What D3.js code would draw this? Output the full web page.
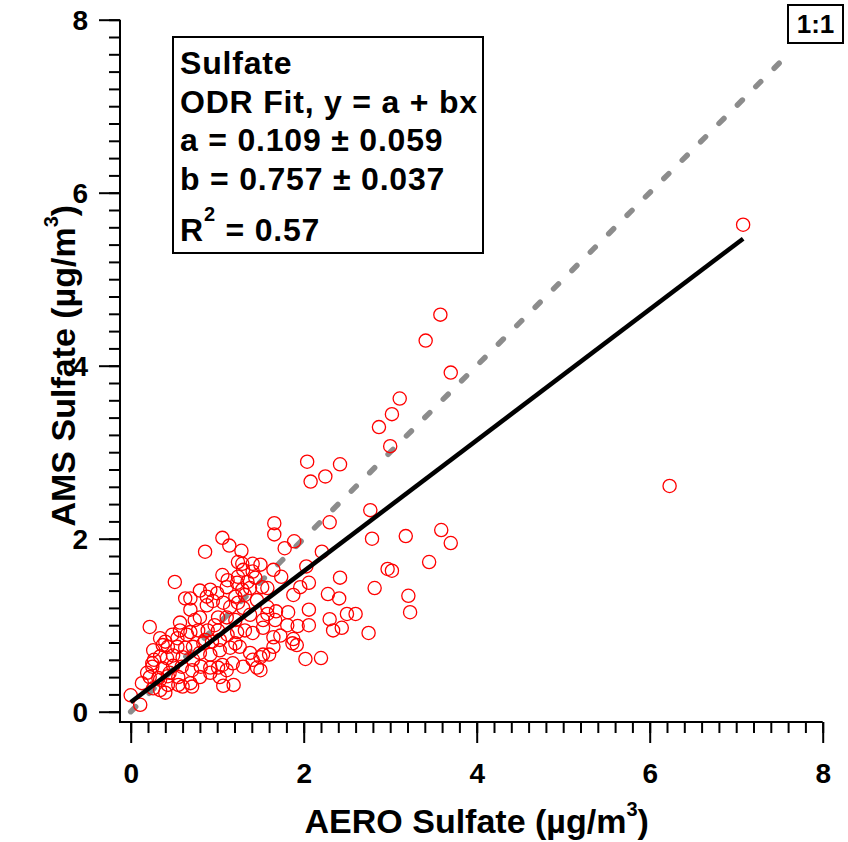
<!DOCTYPE html>
<html>
<head>
<meta charset="utf-8">
<script src="https://cdn.jsdelivr.net/npm/d3@7"></script>
<style>
	body { margin: 0; background: #fff; }
	text { font-family: "Liberation Sans", Arial, sans-serif; font-weight: bold; fill: #000; }
</style>
</head>
<body>
<svg id="chart"></svg>
<script>
// AERO vs AMS sulfate, ug/m3
const aeroSulfate = [
	3.58, 3.41, 3.70, 3.11, 3.02, 2.87, 3.00, 2.04, 2.42, 2.25, 2.08, 2.77, 2.30, 1.66, 1.66, 1.89, 2.79, 3.18, 3.59, 3.70, 7.08, 6.23,
	1.78, 2.21, 2.03, 1.65, 1.74, 1.58, 1.50, 2.06, 1.96, 1.88, 2.42, 2.28, 2.41, 2.82, 2.97, 3.02, 3.21, 3.23, 2.60, 2.50, 2.30, 2.44,
	2.34, 2.75, 2.06, 2.06, 1.93, 1.82, 1.68, 1.58, 1.67, 1.81, 1.53, 1.65, 1.73, 1.88, 1.92, 1.87, 1.65, 1.60, 2.02, 2.20, 1.50, 3.45,
	1.06, 1.14, 1.28, 0.86, 1.24, 1.29, 1.41, 1.30, 1.41, 1.06, 0.51, 1.12, 1.23, 1.35, 1.44, 1.52, 1.38, 1.29, 1.21, 0.92, 1.00, 1.11,
	0.88, 0.95, 0.63, 0.69, 0.69, 0.80, 0.88, 1.07, 1.15, 1.24, 1.30, 1.01, 1.11, 1.46, 1.58, 1.53, 0.22, 0.57, 0.48, 0.54, 0.65, 0.69,
	0.78, 0.89, 1.01, 0.34, 0.40, 0.43, 0.54, 0.63, 0.72, 0.84, 0.94, 1.03, 1.12, 1.23, 1.32, 1.41,
	0.26, 0.27, 0.34, 0.42, 0.49, 0.60, 0.72, 0.80, 0.92, 1.03, 1.15, 1.26, 1.38, 1.50, 0.25, 0.37, 0.49, 0.59, 0.71, 0.81, 0.92, 1.06,
	1.18, 1.30, 1.41, 1.46, 0.22, 0.32, 0.43, 0.55, 0.69, 0.80, 0.92, 1.03, 1.11, 0.13, 0.26, 0.34, 0.40, 0.43, 0.55, 0.60, 1.07, 1.19,
	0.00, 0.11, 0.71, 1.01, 1.53, 1.21, 0.19, 0.34, 0.45, 0.37, 0.25, 0.57, 1.24,
	0.80, 1.32, 0.97, 1.38, 1.21, 0.86, 0.74
]
const amsSulfate = [
	4.59, 4.29, 3.92, 3.62, 3.44, 3.29, 3.07, 2.89, 2.86, 2.72, 2.66, 2.33, 2.19, 2.18, 2.05, 1.97, 2.00, 2.03, 2.10, 1.95, 5.63, 2.61,
	1.89, 1.85, 1.68, 1.64, 1.56, 1.43, 1.70, 1.49, 1.44, 1.35, 1.55, 1.36, 1.31, 1.43, 1.65, 1.63, 1.34, 1.15, 1.13, 1.13, 1.07, 0.97,
	0.94, 0.91, 1.18, 1.00, 0.99, 1.15, 1.16, 1.13, 1.06, 1.00, 0.97, 0.86, 0.88, 0.84, 0.77, 0.79, 0.75, 0.66, 0.61, 0.62, 0.48, 1.73,
	2.01, 1.92, 1.86, 1.85, 1.73, 1.71, 1.71, 1.64, 1.62, 1.58, 1.50, 1.52, 1.49, 1.50, 1.55, 1.44, 1.43, 1.41, 1.33, 1.41, 1.37, 1.44,
	1.33, 1.28, 1.31, 1.31, 1.18, 1.09, 1.23, 1.26, 1.21, 1.26, 1.20, 1.09, 1.09, 1.29, 1.21, 1.06, 0.98, 0.94, 0.89, 0.85, 0.89, 0.92,
	0.94, 0.94, 0.94, 0.85, 0.81, 0.75, 0.75, 0.74, 0.75, 0.79, 0.81, 0.83, 0.89, 0.92, 0.94, 0.91,
	0.71, 0.60, 0.64, 0.62, 0.65, 0.63, 0.60, 0.68, 0.66, 0.71, 0.74, 0.75, 0.68, 0.63, 0.52, 0.50, 0.53, 0.52, 0.48, 0.52, 0.51, 0.54,
	0.56, 0.52, 0.60, 0.51, 0.40, 0.39, 0.41, 0.40, 0.33, 0.40, 0.45, 0.40, 0.48, 0.33, 0.27, 0.25, 0.22, 0.31, 0.31, 0.29, 0.30, 0.31,
	0.19, 0.08, 0.29, 0.51, 0.66, 0.79, 0.45, 0.37, 0.45, 0.77, 0.56, 1.03, 1.56,
	1.40, 1.35, 1.00, 1.12, 1.06, 0.83, 1.06
]

// ODR fit y = a + bx
const fitIntercept = 0.109
const fitSlope = 0.757
const oneToOneRange = [0, 7.62]

const majorTicks = [0, 2, 4, 6, 8]
const minorTicks = d3.range(0, 8.001, 0.2)

const legendLines = [
	'Sulfate',
	'ODR Fit, y = a + bx',
	'a = 0.109 \u00b1 0.059',
	'b = 0.757 \u00b1 0.037'
]
const legendR2 = '0.57'

const width = 848
const height = 842

const x = d3.scaleLinear().domain([0, 8]).range([130.7, 822.7])
const y = d3.scaleLinear().domain([0, 8]).range([711.7, 19.7])

const svg =
	d3.select('#chart')
		.attr('width', width)
		.attr('height', height)

// 1:1 line
svg.append('line')
	.attr('x1', x(oneToOneRange[0]))
	.attr('y1', y(oneToOneRange[0]))
	.attr('x2', x(oneToOneRange[1]))
	.attr('y2', y(oneToOneRange[1]))
	.attr('stroke', '#8c8c8c')
	.attr('stroke-width', 5.5)
	.attr('stroke-linecap', 'round')
	.attr('stroke-dasharray', '7,19')

// Points
svg.append('g')
	.selectAll('circle')
	.data(aeroSulfate.map((d, i) => [d, amsSulfate[i]]))
	.enter()
	.append('circle')
	.attr('cx', d => x(d[0]))
	.attr('cy', d => y(d[1]))
	.attr('r', 6.6)
	.attr('fill', 'none')
	.attr('stroke', '#ff0000')
	.attr('stroke-width', 1.3)

// Fit line
const fitX = d3.extent(aeroSulfate)
svg.append('line')
	.attr('x1', x(fitX[0]))
	.attr('y1', y(fitIntercept + fitSlope * fitX[0]))
	.attr('x2', x(fitX[1]))
	.attr('y2', y(fitIntercept + fitSlope * fitX[1]))
	.attr('stroke', '#000')
	.attr('stroke-width', 4.5)

// Axes
const axisX = 120
const axisY = 722

svg.append('path')
	.attr('d', `M${axisX},${y(8)}V${axisY}H${x(8)}`)
	.attr('fill', 'none')
	.attr('stroke', '#000')
	.attr('stroke-width', 2)

const xAxis = svg.append('g').attr('transform', `translate(0,${axisY})`)
xAxis.append('g')
	.call(d3.axisBottom(x).tickValues(minorTicks).tickSize(11).tickFormat(''))
xAxis.append('g')
	.call(d3.axisBottom(x).tickValues(majorTicks).tickSize(21).tickFormat(d3.format('d')))
xAxis.selectAll('text')
	.attr('y', 61)
	.attr('dy', 0)
	.style('font-size', '28px')

const yAxis = svg.append('g').attr('transform', `translate(${axisX},0)`)
yAxis.append('g')
	.call(d3.axisLeft(y).tickValues(minorTicks).tickSize(11).tickFormat(''))
yAxis.append('g')
	.call(d3.axisLeft(y).tickValues(majorTicks).tickSize(21).tickFormat(d3.format('d')))
yAxis.selectAll('text')
	.attr('x', -32)
	.attr('dy', '0.36em')
	.style('font-size', '28px')

svg.selectAll('.domain').remove()
svg.selectAll('.tick line')
	.attr('stroke', '#000')
	.attr('stroke-width', 2)

// Axis titles
const xTitle = svg.append('text')
	.attr('x', (x(0) + x(8)) / 2)
	.attr('y', 833)
	.attr('text-anchor', 'middle')
	.style('font-size', '34px')
xTitle.append('tspan').text('AERO Sulfate (\u00b5g/m')
xTitle.append('tspan').attr('dy', -17).style('font-size', '20px').text('3')
xTitle.append('tspan').attr('dy', 17).text(')')

const yTitle = svg.append('text')
	.attr('transform', `translate(75,${(y(0) + y(8)) / 2}) rotate(-90)`)
	.attr('text-anchor', 'middle')
	.style('font-size', '34px')
yTitle.append('tspan').text('AMS Sulfate (\u00b5g/m')
yTitle.append('tspan').attr('dy', -17).style('font-size', '20px').text('3')
yTitle.append('tspan').attr('dy', 17).text(')')

// Fit legend box
const legend = svg.append('g')
legend.append('rect')
	.attr('x', 173)
	.attr('y', 37)
	.attr('width', 310)
	.attr('height', 216)
	.attr('fill', '#fff')
	.attr('stroke', '#000')
	.attr('stroke-width', 2)

legend.selectAll('text.line')
	.data(legendLines)
	.enter()
	.append('text')
	.attr('class', 'line')
	.attr('x', 180)
	.attr('y', (d, i) => 74 + i * 38.5)
	.style('font-size', '32px')
	.style('letter-spacing', '0.8px')
	.text(d => d)

const r2 = legend.append('text')
	.attr('x', 180)
	.attr('y', 241)
	.style('font-size', '32px')
	.style('letter-spacing', '0.8px')
r2.append('tspan').text('R')
r2.append('tspan').attr('dy', -20).style('font-size', '20px').text('2')
r2.append('tspan').attr('dy', 20).text(' = ' + legendR2)

// 1:1 label
svg.append('rect')
	.attr('x', 788)
	.attr('y', 5)
	.attr('width', 55)
	.attr('height', 38)
	.attr('fill', '#fff')
	.attr('stroke', '#000')
	.attr('stroke-width', 2)
svg.append('text')
	.attr('x', 815.5)
	.attr('y', 33)
	.attr('text-anchor', 'middle')
	.style('font-size', '26px')
	.text('1:1')
</script>
</body>
</html>
